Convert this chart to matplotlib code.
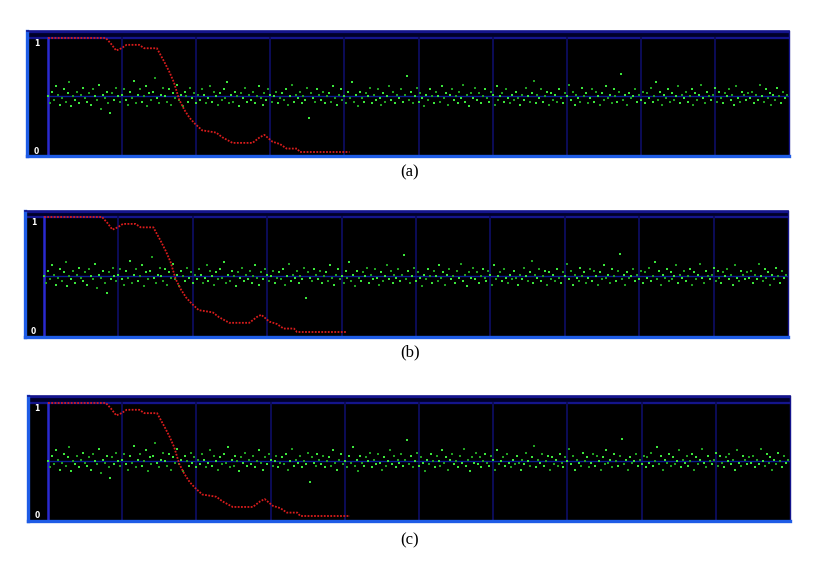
import matplotlib

matplotlib.use("Agg")
import matplotlib.pyplot as plt
import numpy as np

W, H = 815, 567

# red trace: (sample index, normalised level)
RED_X = [0, 78, 85, 92, 99, 106, 123, 130, 147, 157, 164, 170, 177, 184, 191, 198,
         208, 218, 227, 235, 249, 276, 286, 292, 303, 313, 322, 336, 340, 407]
RED_Y = [1.0, 1.0, 0.95, 0.89, 0.91, 0.94, 0.94, 0.91, 0.91, 0.79, 0.70, 0.61, 0.46, 0.37, 0.30, 0.25,
         0.19, 0.18, 0.17, 0.13, 0.08, 0.08, 0.13, 0.15, 0.09, 0.07, 0.03, 0.03, 0.0, 0.0]

# green scatter, in percent of full scale
GREEN = [
    49, 43, 53, 46, 58, 50, 41, 47, 55, 44, 52, 61, 40, 49, 46, 53, 43, 50, 56, 47,
    44, 52, 41, 55, 49, 46, 59, 38, 50, 47, 53, 43, 34, 52, 46, 56, 49, 44, 50, 55,
    46, 41, 53, 47, 62, 43, 50, 55, 44, 49, 58, 40, 52, 46, 53, 65, 47, 43, 50, 56,
    49, 44, 55, 41, 52, 47, 59, 46, 50, 40, 53, 49, 44, 56, 47, 52, 43, 50, 46, 55,
    50, 43, 47, 58, 44, 53, 49, 41, 52, 46, 55, 47, 61, 43, 50, 44, 53, 49, 40, 52,
    47, 56, 44, 50, 46, 53, 43, 49, 58, 47, 41, 52, 46, 55, 50, 44, 49, 53, 43, 47,
    52, 46, 55, 41, 49, 59, 44, 50, 47, 53, 43, 49, 46, 56, 30, 52, 47, 44, 55, 50,
    46, 53, 43, 49, 52, 44, 58, 47, 41, 50, 55, 46, 49, 43, 53, 47, 61, 44, 50, 40,
    53, 47, 44, 52, 49, 56, 43, 50, 46, 55, 47, 41, 52, 44, 49, 58, 46, 53, 43, 50,
    47, 55, 44, 50, 67, 46, 53, 43, 49, 56, 44, 52, 47, 40, 50, 46, 55, 49, 43, 53,
    49, 44, 58, 47, 52, 41, 50, 55, 46, 49, 43, 53, 47, 59, 44, 50, 40, 52, 47, 56,
    46, 52, 43, 49, 55, 47, 44, 53, 50, 41, 58, 46, 49, 52, 44, 55, 47, 43, 50, 46,
    53, 47, 41, 50, 46, 56, 49, 44, 52, 62, 43, 50, 47, 55, 44, 49, 53, 41, 52, 46,
    50, 44, 55, 47, 43, 52, 49, 59, 46, 53, 41, 50, 47, 44, 56, 49, 52, 43, 47, 55,
    44, 53, 49, 41, 52, 46, 58, 47, 50, 43, 55, 49, 44, 53, 68, 46, 50, 41, 52, 47,
    49, 55, 44, 50, 46, 53, 43, 52, 47, 56, 44, 49, 61, 46, 53, 41, 50, 47, 55, 44,
    52, 46, 49, 58, 43, 50, 47, 53, 44, 49, 55, 41, 52, 46, 50, 59, 47, 43, 53, 49,
    46, 50, 56, 44, 53, 47, 43, 52, 49, 55, 46, 50, 41, 58, 47, 44, 53, 50, 46, 52,
    47, 53, 43, 50, 46, 59, 49, 44, 55, 47, 52, 41, 50, 46, 56, 49, 43, 53, 47, 50,
]
MID = 0.49
CAPTIONS = ["(a)", "(b)", "(c)"]

# panel geometry in pixels: left, separator, top, level-1, level-0, bottom, right, caption y
PANELS = [
    (27, 48, 31, 38, 152, 156, 789, 172),
    (25, 44, 211, 217, 332, 337, 788, 352),
    (28, 48, 396, 403, 516, 521, 790, 540),
]

BRIGHT = "#1e5ce6"
NAVY = "#14148c"
GRIDC = "#0c0c58"


def panel(fig, geom, caption):
    left, sep, top, y1, y0, bottom, right, cap_y = geom
    ax = fig.add_axes([left / W, 1 - bottom / H, (right - left) / W, (bottom - top) / H])
    ax.set_facecolor("black")
    s = (right - sep) / 1000.0
    k = float(y0 - y1)
    x_lo = -(sep - left) / s
    y_lo, y_hi = -(bottom - y0) / k, 1 + (y1 - top) / k
    ax.set_xlim(x_lo, 1000)
    ax.set_ylim(y_lo, y_hi)
    ax.set_xticks([]); ax.set_yticks([])

    # top band
    ax.axhspan(1.0, y_hi, color="#00002a", zorder=0)
    ax.axhline(1.0, color=NAVY, lw=1.6, zorder=1)
    ax.axhline(y_hi - 0.01, color=NAVY, lw=1.6, zorder=1)
    for gx in range(100, 1000, 100):
        ax.plot([gx, gx], [y_lo, 1.0], color=GRIDC, lw=1.4, zorder=1)
    ax.plot([0, 0], [y_lo, 1.0], color="#2a2ad0", lw=1.8, zorder=2)
    ax.axhline(MID, xmin=(0 - x_lo) / (1000 - x_lo), color="#0a1c90", lw=1.0, zorder=1)

    gx = np.arange(len(GREEN)) * (1000.0 / len(GREEN))
    gy = np.array(GREEN) / 100.0
    cols = ["#3ce63c", "#22a022"]
    for i, c in enumerate(cols):
        ax.plot(gx[i::2], gy[i::2], ls="none", marker="s", ms=1.6, mew=0, color=c, zorder=3)

    ax.plot(RED_X, RED_Y, color="#d81c1c", lw=1.3, ls=(0, (1.0, 0.8)), zorder=4)

    ax.text(x_lo * 0.55, 0.95, "1", color="white", fontsize=5.5, fontweight="bold",
            ha="center", va="center", zorder=5)
    ax.text(x_lo * 0.55, 0.0, "0", color="white", fontsize=5.5, fontweight="bold",
            ha="center", va="center", zorder=5)

    for side in ("left", "bottom"):
        ax.spines[side].set_color(BRIGHT)
        ax.spines[side].set_linewidth(2.4)
    ax.spines["top"].set_color(NAVY)
    ax.spines["top"].set_linewidth(1.2)
    ax.spines["right"].set_color(NAVY)
    ax.spines["right"].set_linewidth(1.0)

    fig.text(410 / W, 1 - cap_y / H, caption, ha="center", va="center",
             fontsize=12, family="Liberation Serif")


def main():
    fig = plt.figure(figsize=(W / 100, H / 100), dpi=100)
    fig.patch.set_facecolor("white")
    for geom, cap in zip(PANELS, CAPTIONS):
        panel(fig, geom, cap)
    fig.savefig("out.png", dpi=100)
    plt.close(fig)


if __name__ == "__main__":
    main()
